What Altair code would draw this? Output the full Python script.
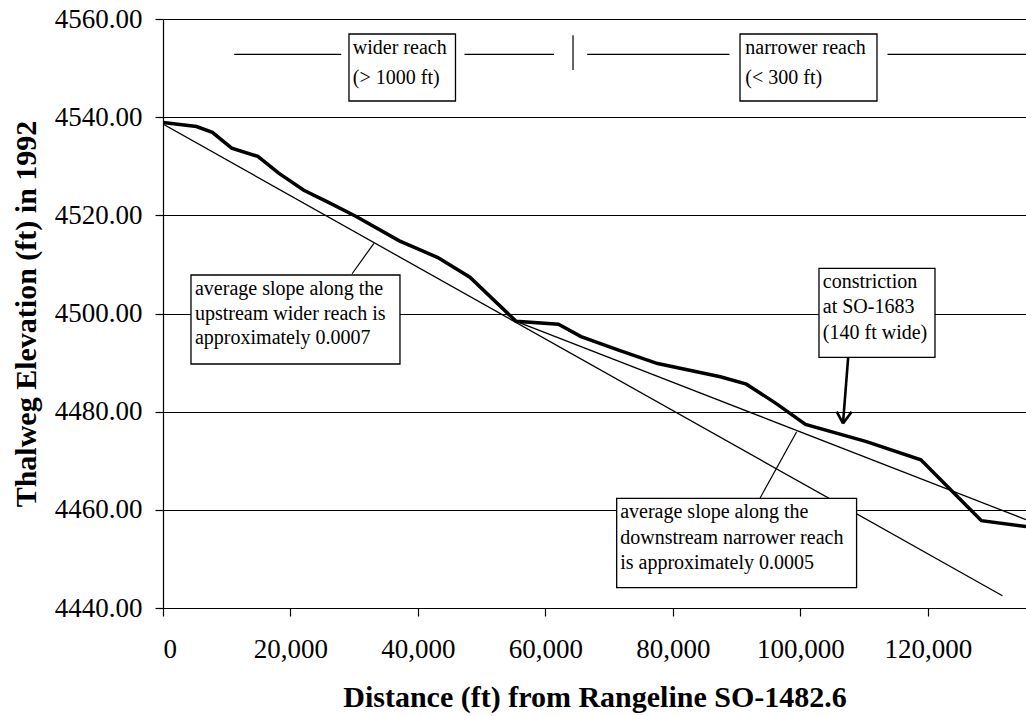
import altair as alt
import pandas as pd

# Thalweg elevation profile (1992 survey)
distance_ft = [0, 5260, 7740, 10780, 14880, 18150, 22090, 26040, 30240, 37080,
               43120, 48150, 55400, 62040, 65590, 71590, 77600, 87440, 91530,
               96170, 100810, 110370, 118900, 128400, 135400]
elevation_ft = [4538.9, 4538.1, 4536.9, 4533.7, 4532.0, 4528.6, 4525.1, 4522.6,
                4519.8, 4514.8, 4511.4, 4507.4, 4498.4, 4497.8, 4495.3, 4492.5,
                4489.8, 4487.1, 4485.6, 4481.7, 4477.4, 4473.9, 4470.2, 4457.8,
                4456.6]

# Average-slope lines for the two reaches
upstream_fit_x = [0, 131700]
upstream_fit_y = [4538.6, 4442.5]
downstream_fit_x = [55400, 135400]
downstream_fit_y = [4498.4, 4458.0]

x_ticks = [0, 20000, 40000, 60000, 80000, 100000, 120000]
y_ticks = [4440, 4460, 4480, 4500, 4520, 4540, 4560]

X_DOMAIN = [0, 135400]
Y_DOMAIN = [4440, 4560]
FONT = "Liberation Serif"

xs = alt.Scale(domain=X_DOMAIN, nice=False, zero=False)
ys = alt.Scale(domain=Y_DOMAIN, nice=False, zero=False)

# One axis definition shared by every layer so the merged axes keep it
x_axis = alt.Axis(
    values=x_ticks, format=",d", title="Distance (ft) from Rangeline SO-1482.6",
    labelFontSize=27, labelPadding=20, tickSize=8, grid=False,
    titleFontSize=30, titleFontWeight="bold", titleBaseline="alphabetic",
    titleAlign="center", titleX=431.5, titleY=98)
y_axis = alt.Axis(
    values=y_ticks, format=".2f", title="Thalweg Elevation (ft) in 1992",
    labelFontSize=27, labelPadding=13, tickSize=8, grid=True,
    gridColor="black", gridWidth=1, gridOpacity=1,
    titleFontSize=30, titleFontWeight="bold", titleAngle=-90,
    titleBaseline="alphabetic", titleAlign="center", titleX=-128, titleY=294.5)


def X(field):
    return alt.X(field, scale=xs, axis=x_axis)


def Y(field):
    return alt.Y(field, scale=ys, axis=y_axis)


profile = pd.DataFrame({"d": distance_ft, "z": elevation_ft})

thalweg = alt.Chart(profile).mark_line(color="black", strokeWidth=3.5, clip=True).encode(
    x=X("d:Q"), y=Y("z:Q"), order=alt.Order("d:Q"),
)


def fit_line(xv, yv):
    df = pd.DataFrame({"d": xv, "z": yv})
    return alt.Chart(df).mark_line(color="black", strokeWidth=1.3, clip=True).encode(
        x=X("d:Q"), y=Y("z:Q"),
    )


# Reach bar across the top of the plot
reach_segments = pd.DataFrame({
    "x0": [11170, 47300, 66550, 113670],
    "x1": [27960, 61350, 88880, 135400],
    "y0": [4552.8] * 4,
    "y1": [4552.8] * 4,
})
divider = pd.DataFrame({"x0": [64330], "x1": [64330], "y0": [4549.6], "y1": [4556.7]})

# Leader lines from the slope notes to their lines
leaders = pd.DataFrame({
    "x0": [29670, 93680],
    "x1": [33090, 99420],
    "y0": [4508.1, 4462.4],
    "y1": [4514.3, 4475.9],
})

# Arrow pointing at the constriction
arrow = pd.DataFrame({
    "x0": [107500, 105700, 108050],
    "x1": [106690, 106690, 106690],
    "y0": [4491.1, 4480.0, 4480.0],
    "y1": [4477.6, 4477.6, 4477.6],
})

boxes = pd.DataFrame({
    "x0": [29180, 90530, 4390, 102920, 71180],
    "x1": [45890, 112020, 37180, 121120, 108820],
    "y0": [4556.94, 4556.94, 4507.84, 4509.21, 4462.35],
    "y1": [4543.29, 4543.29, 4489.71, 4491.08, 4444.14],
})

notes = pd.DataFrame({
    "x": [29780, 29780, 91360, 91360,
          5020, 5020, 5020,
          103520, 103520, 103520,
          71730, 71730, 71730],
    "y": [4554.03, 4547.92, 4554.03, 4547.92,
          4504.93, 4499.94, 4494.95,
          4506.48, 4501.28, 4496.09,
          4459.50, 4454.36, 4449.11],
    "t": ["wider reach", "(> 1000 ft)", "narrower reach", "(< 300 ft)",
          "average slope along the", "upstream wider reach is", "approximately 0.0007",
          "constriction", "at SO-1683", "(140 ft wide)",
          "average slope along the", "downstream narrower reach", "is approximately 0.0005"],
})


def segs(df, width):
    return alt.Chart(df).mark_rule(color="black", strokeWidth=width).encode(
        x=X("x0:Q"), x2="x1:Q", y=Y("y0:Q"), y2="y1:Q",
    )


box_layer = alt.Chart(boxes).mark_rect(fill="white", stroke="black", strokeWidth=1.3).encode(
    x=X("x0:Q"), x2="x1:Q", y=Y("y0:Q"), y2="y1:Q",
)

text_layer = alt.Chart(notes).mark_text(
    align="left", baseline="middle", fontSize=20, font=FONT, color="black"
).encode(
    x=X("x:Q"), y=Y("y:Q"), text="t:N",
)

chart = alt.layer(
    thalweg,
    fit_line(upstream_fit_x, upstream_fit_y),
    fit_line(downstream_fit_x, downstream_fit_y),
    segs(reach_segments, 1.2),
    segs(divider, 1.2),
    box_layer,
    text_layer,
    segs(leaders, 1.2),
    segs(arrow, 2.6),
).properties(
    width=863,
    height=589,
    padding={"left": 163, "top": 19, "right": 0, "bottom": 108},
    autosize=alt.AutoSizeParams(type="none"),
).configure(
    font=FONT,
).configure_view(
    stroke=None,
).configure_axis(
    domainColor="black",
    tickColor="black",
    labelColor="black",
    titleColor="black",
    labelFont=FONT,
    titleFont=FONT,
    domainWidth=1.2,
    tickWidth=1.2,
)

chart.save("out.html", embed_options={"renderer": "svg", "actions": False})
